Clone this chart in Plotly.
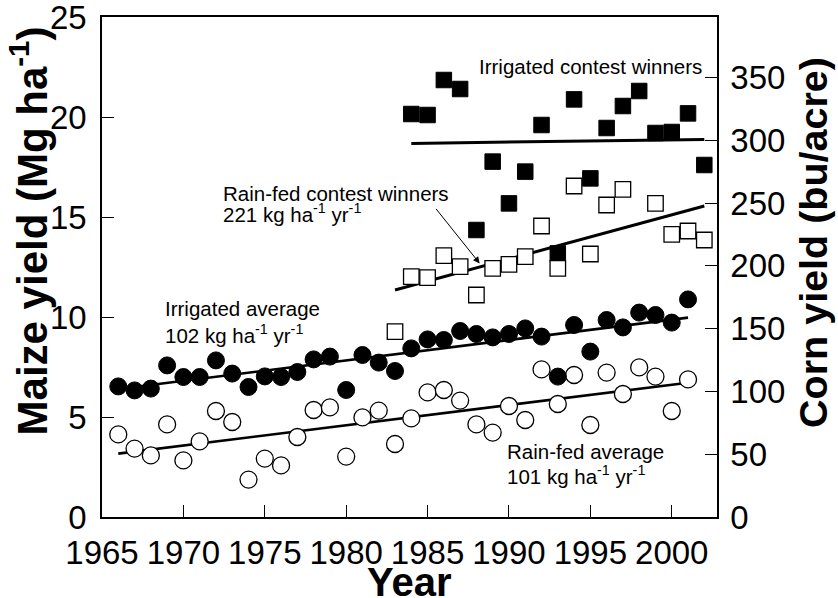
import plotly.graph_objects as go

FONT = "Liberation Sans, Arial, sans-serif"
BU_PER_MG = 15.93  # 1 Mg/ha = 15.93 bu/acre (corn)

# ---- Data ----
avg_years = list(range(1966, 2002))
irrigated_avg = [6.53, 6.33, 6.42, 7.58, 7.0, 7.0, 7.83, 7.17, 6.5, 7.03,
                 7.0, 7.25, 7.88, 8.02, 6.35, 8.1, 7.72, 7.3, 8.43, 8.88,
                 8.85, 9.3, 9.15, 8.98, 9.15, 9.43, 9.02, 7.02, 9.6, 8.27,
                 9.85, 9.48, 10.22, 10.1, 9.72, 10.88]
rainfed_avg = [4.13, 3.42, 3.08, 4.63, 2.83, 3.78, 5.3, 4.75, 1.87, 2.92,
               2.58, 4.0, 5.35, 5.48, 3.02, 4.98, 5.32, 3.65, 4.93, 6.23,
               6.35, 5.82, 4.63, 4.22, 5.55, 4.85, 7.38, 5.65, 7.1, 4.6,
               7.22, 6.15, 7.48, 7.02, 5.3, 6.88]

irr_contest_years = list(range(1984, 2003))
irr_contest = [20.15, 20.1, 21.85, 21.4, 14.35, 17.77, 15.68, 17.27, 19.6,
               13.18, 20.88, 16.93, 19.45, 20.55, 21.3, 19.2, 19.25, 20.18, 17.6]

rf_contest_years = [1983, 1984, 1985, 1986, 1987, 1988, 1989, 1990, 1991, 1992,
                    1993, 1994, 1995, 1996, 1997, 1999, 2000, 2001, 2002]
rf_contest = [9.27, 12.02, 11.97, 13.07, 12.52, 11.1, 12.43, 12.63, 13.02, 14.55,
              12.43, 16.55, 13.15, 15.6, 16.38, 15.68, 14.13, 14.3, 13.85]

# Trend lines (start/end of each regression line)
trend_irr_avg_x = [1966, 2001]
trend_irr_avg_y = [6.40, 9.97]
trend_rf_avg_x = [1966, 2001]
trend_rf_avg_y = [3.17, 6.71]
trend_irr_contest_x = [1984, 2002]
trend_irr_contest_y = [18.68, 18.88]
trend_rf_contest_x = [1983, 2002]
trend_rf_contest_y = [11.35, 15.55]

x_ticks = [1965, 1970, 1975, 1980, 1985, 1990, 1995, 2000]
y_ticks = [0, 5, 10, 15, 20, 25]
y2_ticks = [0, 50, 100, 150, 200, 250, 300, 350]

fig = go.Figure()

for tx, ty, w in [(trend_irr_avg_x, trend_irr_avg_y, 2.6),
                  (trend_rf_avg_x, trend_rf_avg_y, 2.6),
                  (trend_irr_contest_x, trend_irr_contest_y, 3),
                  (trend_rf_contest_x, trend_rf_contest_y, 3)]:
    fig.add_trace(go.Scatter(x=tx, y=ty, mode="lines",
                             line=dict(color="black", width=w),
                             showlegend=False, hoverinfo="skip"))

fig.add_trace(go.Scatter(x=avg_years, y=rainfed_avg, mode="markers",
                         marker=dict(symbol="circle", size=17, color="white",
                                     line=dict(color="black", width=1.3)),
                         name="Rain-fed average", showlegend=False))
fig.add_trace(go.Scatter(x=avg_years, y=irrigated_avg, mode="markers",
                         marker=dict(symbol="circle", size=17, color="black",
                                     line=dict(color="black", width=1)),
                         name="Irrigated average", showlegend=False))
fig.add_trace(go.Scatter(x=irr_contest_years, y=irr_contest, mode="markers",
                         marker=dict(symbol="square", size=15.5, color="black",
                                     line=dict(color="black", width=1)),
                         name="Irrigated contest winners", showlegend=False))
fig.add_trace(go.Scatter(x=rf_contest_years, y=rf_contest, mode="markers",
                         marker=dict(symbol="square", size=15.5, color="white",
                                     line=dict(color="black", width=1.3)),
                         name="Rain-fed contest winners", showlegend=False))
# secondary (bu/acre) axis carrier
fig.add_trace(go.Scatter(x=[], y=[], yaxis="y2", mode="markers",
                         showlegend=False, hoverinfo="skip"))

ann_font = dict(family=FONT, size=20.5, color="black")
annotations = [
    dict(x=2002.0, y=22.55, text="Irrigated contest winners", xanchor="right"),
    dict(x=1972.28, y=16.2, text="Rain-fed contest winners", xanchor="left"),
    dict(x=1972.28, y=15.2, text="221 kg ha<sup>-1</sup> yr<sup>-1</sup>", xanchor="left"),
    dict(x=1968.73, y=10.45, text="Irrigated average", xanchor="left"),
    dict(x=1968.73, y=9.16, text="102 kg ha<sup>-1</sup> yr<sup>-1</sup>", xanchor="left"),
    dict(x=1989.74, y=3.3, text="Rain-fed average", xanchor="left"),
    dict(x=1989.74, y=2.08, text="101 kg ha<sup>-1</sup> yr<sup>-1</sup>", xanchor="left"),
]
for a in annotations:
    fig.add_annotation(xref="x", yref="y", yanchor="middle", showarrow=False,
                       font=ann_font, **a)

fig.add_annotation(x=1988.2, y=12.68, ax=1985.45, ay=15.48, xref="x", yref="y",
                   axref="x", ayref="y", text="", showarrow=True,
                   arrowhead=2, arrowsize=1.3, arrowwidth=1, arrowcolor="black")

# axis titles
title_bold = dict(family=FONT, color="black", weight="bold")
fig.add_annotation(xref="paper", yref="paper", x=-0.118, y=0.572,
                   text="Maize yield (Mg ha<sup>-1</sup>)", textangle=-90,
                   xanchor="center", yanchor="middle", showarrow=False,
                   font=dict(size=42, **title_bold))
fig.add_annotation(xref="paper", yref="paper", x=1.156, y=0.55,
                   text="Corn yield (bu/acre)", textangle=-90,
                   xanchor="center", yanchor="middle", showarrow=False,
                   font=dict(size=39.5, **title_bold))
fig.add_annotation(xref="paper", yref="paper", x=0.5, y=-0.13,
                   text="Year", xanchor="center", yanchor="middle", showarrow=False,
                   font=dict(size=40, **title_bold))

tick_font = dict(family=FONT, size=33, color="black")

common = dict(automargin=False, ticks="inside", ticklen=12, tickwidth=1.3,
              tickcolor="black", showline=True, linecolor="black", linewidth=1.5,
              showgrid=False, zeroline=False, tickfont=tick_font,
              ticklabeloverflow="allow")

fig.update_layout(
    width=838, height=598,
    margin=dict(l=102, r=121, t=17, b=81, pad=0),
    paper_bgcolor="white", plot_bgcolor="white",
    font=dict(family=FONT, color="black"),
    xaxis=dict(range=[1965, 2002.78], tickvals=x_ticks, mirror=True,
               ticklabelstandoff=6, **common),
    yaxis=dict(range=[0, 25], tickvals=y_ticks, mirror=True,
               ticklabelstandoff=7, **common),
    yaxis2=dict(range=[0, 25 * BU_PER_MG], tickvals=y2_ticks, overlaying="y",
                side="right", ticklabelstandoff=5, **common),
)

fig.write_html("out.html", config={"displayModeBar": False},
               post_script="document.body.style.margin='0px';")
